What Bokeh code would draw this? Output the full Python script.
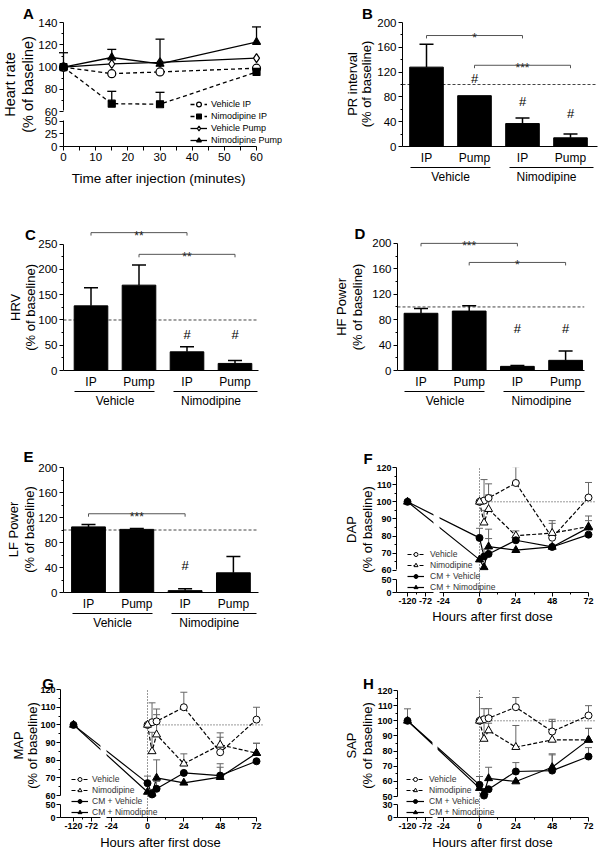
import math
from bokeh.plotting import figure
from bokeh.models import (Range1d, LinearAxis, FixedTicker, CustomJSTickFormatter,
                          Legend, LegendItem, Span)
from bokeh.layouts import column, row
from bokeh.embed import file_html
from bokeh.resources import INLINE
from bokeh.core.properties import value

FONT = "Liberation Sans"

# ------------------------------------------------------------------ data
# A: heart rate (% of baseline) vs minutes after injection
a_minutes = [0, 15, 30, 60]
a_x_ticks = [0, 10, 20, 30, 40, 50, 60]
a_x_minor = [5, 15, 25, 35, 45, 55]
a_y_ticks = [0, 25, 50, 60, 80, 100, 120, 140]
a_y_minor = [70, 90, 110, 130]
a_names = ["Vehicle IP", "Nimodipine IP", "Vehicle Pump", "Nimodipine Pump"]
a_vehicle_ip = [100, 94.2, 95.7, 99.1]
a_vehicle_ip_sem = [13.0, 0, 0, 0]
a_nimodipine_ip = [100, 67.2, 66.7, 95.7]
a_nimodipine_ip_sem = [0, 11.1, 10.7, 0]
a_vehicle_pump = [100, 102.9, 104.3, 108.1]
a_vehicle_pump_sem = [0, 0, 20.9, 0]
a_nimodipine_pump = [100, 108.7, 102.9, 122.6]
a_nimodipine_pump_sem = [0, 7.3, 0, 13.6]

# B-E: bar charts
bar_labels = ["IP", "Pump", "IP", "Pump"]
group_labels = ["Vehicle", "Nimodipine"]

b_mean = [128, 82, 37, 14]
b_sem = [37, 0, 9, 6]
b_y_ticks = [0, 40, 80, 120, 160, 200]
b_y_minor = [20, 60, 100, 140, 180]
b_sig_from = [0, 1]
b_sig_to = [2, 3]
b_sig_y = [179, 131]
b_sig_text = ["*", "***"]
b_hash_x = [1, 2, 3]
b_hash_y = [110, 72, 54]

c_mean = [128, 169, 37, 14]
c_sem = [36, 40, 10, 6]
c_y_ticks = [0, 50, 100, 150, 200, 250]
c_y_minor = [25, 75, 125, 175, 225]
c_sig_from = [0, 1]
c_sig_to = [2, 3]
c_sig_y = [273, 230]
c_sig_text = ["**", "**"]
c_hash_x = [2, 3]
c_hash_y = [72, 72]

d_mean = [90, 93.5, 6.5, 16]
d_sem = [7.5, 8.5, 1.5, 14.5]
d_y_ticks = [0, 40, 80, 120, 160, 200]
d_y_minor = [20, 60, 100, 140, 180]
d_sig_from = [0, 1]
d_sig_to = [2, 3]
d_sig_y = [200, 170]
d_sig_text = ["***", "*"]
d_hash_x = [2, 3]
d_hash_y = [66, 66]

e_mean = [105, 101, 3, 31.5]
e_sem = [4, 1.5, 3, 26]
e_y_ticks = [0, 40, 80, 120, 160, 200]
e_y_minor = [20, 60, 100, 140, 180]
e_sig_from = [0]
e_sig_to = [2]
e_sig_y = [126]
e_sig_text = ["***"]
e_hash_x = [2]
e_hash_y = [43]

# F-H: time courses (% of baseline), value and top of error bar
drug_hours = [0, 3, 6, 24, 48, 72]
cm_hours = [-120, 0, 3, 6, 24, 48, 72]
hour_ticks = [-120, -72, -24, 0, 24, 48, 72]
hour_minor = [-96, 12, 36, 60]
tc_names = ["Vehicle", "Nimodipine", "CM + Vehicle", "CM + Nimodipine"]

f_vehicle = [100, 100.7, 102.2, 111.0, 79.0, 102.5]
f_vehicle_top = [100, 113.0, 110.5, 120.5, 89.0, 111.3]
f_nimodipine = [100, 87.8, 95.7, 80.2, 81.7, 85.5]
f_nimodipine_top = [100, 95.0, 104.0, 83.0, 87.4, 89.0]
f_cm_vehicle = [100, 78.9, 68.0, 69.5, 77.5, 73.6, 80.8]
f_cm_vehicle_top = [100, 84.5, 72.3, 78.5, 80.0, 73.6, 80.8]
f_cm_nimodipine = [100, 66.2, 61.7, 73.8, 71.7, 73.6, 84.9]
f_cm_nimodipine_top = [100, 66.2, 61.7, 84.0, 71.7, 73.6, 91.7]
f_y_ticks = [0, 50, 60, 70, 80, 90, 100, 110, 120]
f_y_minor = [65, 75, 85, 95, 105, 115]

g_vehicle = [100, 101.5, 102, 110, 84.5, 103]
g_vehicle_top = [100, 112.5, 109, 118.5, 95.5, 110]
g_nimodipine = [100, 85, 94.5, 78, 88.7, 84]
g_nimodipine_top = [100, 95.8, 105.8, 83.6, 93, 89.6]
g_cm_vehicle = [100, 67, 60.6, 63.8, 72.8, 71.3, 79.4]
g_cm_vehicle_top = [100, 71, 60.6, 68, 72.8, 78, 79.4]
g_cm_nimodipine = [100, 62, 61, 70, 67.2, 70.4, 84]
g_cm_nimodipine_top = [100, 62, 61, 80.2, 67.2, 76, 89.6]
g_y_ticks = [0, 50, 60, 70, 80, 90, 100, 110, 120]
g_y_minor = [65, 75, 85, 95, 105, 115]

h_vehicle = [100, 101, 101.7, 109, 92.9, 103.5]
h_vehicle_top = [115.4, 108, 108, 115.4, 101, 110]
h_nimodipine = [100, 88, 93.6, 82.6, 87.4, 87.4]
h_nimodipine_top = [100, 100, 98.4, 96.9, 99.5, 95]
h_cm_vehicle = [100, 57.7, 50.6, 54.8, 66.5, 67.1, 76.4]
h_cm_vehicle_top = [107.9, 63.2, 50.6, 54.8, 72.4, 78.2, 82.3]
h_cm_nimodipine = [100, 55.5, 52.6, 62, 59.9, 69.3, 87.4]
h_cm_nimodipine_top = [100, 55.5, 52.6, 69.3, 59.9, 77.5, 95]
h_y_ticks = [0, 30, 50, 60, 70, 80, 90, 100, 110, 120]
h_y_minor = [55, 65, 75, 85, 95, 105, 115]


# ------------------------------------------------------------------ helpers
def brk(v, lo_top, hi_bot, lo_px, gap_px, hi_ppu):
    """broken axis: value -> pixel units above the axis origin"""
    if v <= lo_top:
        return v * lo_px / lo_top
    return lo_px + gap_px + (v - hi_bot) * hi_ppu


def hx(h, left0, left_ppu, zero, right_ppu):
    """broken hour axis: hour -> pixel units right of the y axis"""
    if h <= -72:
        return left0 + (h + 120) * left_ppu
    return zero + h * right_ppu


class Geo:
    def __init__(self, ox, oy, W, H, fl, ft, fr, fb, xs, xe, ys, ye):
        self.ox, self.oy, self.W, self.H = ox, oy, W, H
        self.fl, self.ft, self.fr, self.fb = fl, ft, fr, fb
        self.xs, self.xe, self.ys, self.ye = xs, xe, ys, ye

    def fig(self):
        p = figure(width=self.W, height=self.H, title=None,
                   x_range=Range1d(self.xs, self.xe), y_range=Range1d(self.ys, self.ye),
                   x_axis_type=None, y_axis_type=None,
                   output_backend="svg", toolbar_location=None,
                   min_border_left=self.fl - self.ox, min_border_top=self.ft - self.oy,
                   min_border_right=self.ox + self.W - self.fr,
                   min_border_bottom=self.oy + self.H - self.fb)
        p.outline_line_color = None
        p.background_fill_color = "white"
        p.border_fill_color = "white"
        return p

    def dx(self, px):
        return self.xs + (px - self.fl) * (self.xe - self.xs) / (self.fr - self.fl)

    def dy(self, py):
        return self.ys + (self.fb - py) * (self.ye - self.ys) / (self.fb - self.ft)

    def ppx(self):
        return (self.fr - self.fl) / (self.xe - self.xs)

    def ppy(self):
        return (self.fb - self.ft) / (self.ye - self.ys)


def labels_fmt(pos, labs):
    return CustomJSTickFormatter(args=dict(pos=list(pos), lab=list(labs)), code="""
        let best = ''; let bd = 1e9;
        for (let i = 0; i < pos.length; i++) {
            const d = Math.abs(pos[i] - tick);
            if (d < bd) { bd = d; best = lab[i]; }
        }
        return bd < 1e-6 ? best : '';
    """)


def style_axis(ax, size="11.5px", bold=False):
    ax.major_label_text_font = FONT
    ax.major_label_text_font_size = size
    ax.major_label_text_font_style = "bold" if bold else "normal"
    ax.major_label_text_color = "black"
    ax.axis_line_color = "black"
    ax.axis_line_width = 1
    ax.major_tick_line_color = "black"
    ax.major_tick_line_width = 1
    ax.major_tick_out = 4
    ax.major_tick_in = 0
    ax.minor_tick_line_color = "black"
    ax.minor_tick_out = 2
    ax.minor_tick_in = 0
    ax.major_label_standoff = 2


def put_text(p, g, px, py, txt, size, bold=False, vertical=False, color="black"):
    r = p.text(x=[g.dx(px)], y=[g.dy(py)], text=[txt], text_font=value(FONT),
               text_font_size=value(size), text_font_style=value("bold" if bold else "normal"),
               text_color=color, angle=math.pi / 2 if vertical else 0,
               text_align=value("center"), text_baseline=value("middle"))
    r.level = "overlay"


def style_legend(leg, size, glyph_w, row_h, standoff, color="black", spacing=1):
    leg.label_text_font = FONT
    leg.label_text_font_size = size
    leg.label_text_color = color
    leg.glyph_width = glyph_w
    leg.glyph_height = row_h
    leg.label_height = row_h
    leg.label_standoff = standoff
    leg.spacing = spacing
    leg.padding = 0
    leg.margin = 0
    leg.border_line_color = None
    leg.background_fill_alpha = 0
    leg.label_text_baseline = "middle"


def err_bars(p, xs, means, tops, fy, color, width, cap, level=None):
    sel = [i for i in range(len(xs)) if tops[i] > means[i] + 1e-9]
    if not sel:
        return
    X = [xs[i] for i in sel]
    r1 = p.segment(x0=X, y0=[fy(means[i]) for i in sel], x1=X, y1=[fy(tops[i]) for i in sel],
                   line_color=color, line_width=width)
    r2 = p.scatter(x=X, y=[fy(tops[i]) for i in sel], marker="dash", size=cap,
                   line_color=color, line_width=width)
    if level:
        r1.level = level
        r2.level = level


# ------------------------------------------------------------------ panel A
gA = Geo(0, 0, 300, 205, 63, 22, 292, 150, 0, (292 - 63) / 3.217, 0, 128.2)
pA = gA.fig()


def qa(v):
    return brk(v, 50, 60, 26, 10, 1.15)


a_vals = [a_vehicle_ip, a_nimodipine_ip, a_vehicle_pump, a_nimodipine_pump]
a_sems = [a_vehicle_ip_sem, a_nimodipine_ip_sem, a_vehicle_pump_sem, a_nimodipine_pump_sem]
a_marker = ["circle", "square", "diamond", "triangle"]
a_fill = ["white", "black", "white", "black"]
a_dash = ["4 3", "4 3", "solid", "solid"]
a_size = [8, 7, 9, 8]

a_lines = []
for k in range(4):
    a_lines.append(pA.line(a_minutes, [qa(v) for v in a_vals[k]], line_color="black",
                           line_width=1.3, line_dash=a_dash[k]))
for k in range(4):
    tops = [m + s for m, s in zip(a_vals[k], a_sems[k])]
    err_bars(pA, a_minutes, a_vals[k], tops, qa, "black", 1.3, 9, level="overlay")
a_marks = []
for k in range(4):
    r = pA.scatter(a_minutes, [qa(v) for v in a_vals[k]], marker=a_marker[k], size=a_size[k],
                   fill_color=a_fill[k], line_color="black", line_width=1.2)
    r.level = "overlay"
    a_marks.append(r)

xa = LinearAxis(ticker=FixedTicker(ticks=a_x_ticks, minor_ticks=a_x_minor), bounds=(0, 60))
style_axis(xa)
xa.minor_tick_out = 4
pA.add_layout(xa, "below")
ya = LinearAxis(ticker=FixedTicker(ticks=[qa(v) for v in a_y_ticks],
                                   minor_ticks=[qa(v) for v in a_y_minor]),
                formatter=labels_fmt([qa(v) for v in a_y_ticks], [str(v) for v in a_y_ticks]),
                bounds=(0, qa(140)))
style_axis(ya)
ya.axis_line_dash = f"{round(qa(50))} {round(qa(60) - qa(50))} 600"
pA.add_layout(ya, "left")

legA = Legend(items=[LegendItem(label=a_names[k], renderers=[a_lines[k], a_marks[k]]) for k in range(4)],
              location=(127, 0))
style_legend(legA, "9px", 17, 12, 4, spacing=0)
pA.add_layout(legA)

put_text(pA, gA, 9, 86, "Heart rate", "14.5px", vertical=True)
put_text(pA, gA, 27, 86, "(% of baseline)", "14.5px", vertical=True)
put_text(pA, gA, 160, 183, "Time after injection  (minutes)", "13.5px")
put_text(pA, gA, 28, 12.5, "A", "15px", bold=True)


# ------------------------------------------------------------------ bar panels
group_line_start = [-0.34, 1.72]
group_line_end = [1.32, 3.47]


def bar_panel(g, means, sems, y_ticks, y_minor, y_top, sig_from, sig_to, sig_y, sig_text,
              hash_x, hash_y, ylab1, ylab2, lab_x1, lab_x2, lab_y, letter, letter_xy, title_size):
    p = g.fig()
    ppy = g.ppy()
    p.add_layout(Span(location=100, dimension="width", line_color="#444444", line_dash="3 2",
                      line_width=1, level="underlay"))
    xs = list(range(len(means)))
    p.vbar(x=xs, top=means, width=0.7, fill_color="black", line_color="black")
    tops = [m + s for m, s in zip(means, sems)]
    err_bars(p, xs, means, tops, lambda v: v, "black", 1.5, 14)
    # significance brackets
    drop = 3 / ppy
    p.multi_line(xs=[[a, a, b, b] for a, b in zip(sig_from, sig_to)],
                 ys=[[y - drop, y, y, y - drop] for y in sig_y],
                 line_color="#555555", line_width=1)
    p.text(x=[(a + b) / 2 for a, b in zip(sig_from, sig_to)], y=[y - 3 / ppy for y in sig_y],
           text=sig_text, text_font=value(FONT), text_font_size=value("12px"),
           text_align="center", text_baseline="alphabetic", text_color="#222222")
    p.text(x=hash_x, y=hash_y, text=["#"] * len(hash_x), text_font=value(FONT),
           text_font_size=value("13px"), text_align="center", text_baseline="middle",
           text_color="black")
    # axes
    ya = LinearAxis(ticker=FixedTicker(ticks=y_ticks, minor_ticks=y_minor), bounds=(0, y_top))
    style_axis(ya)
    p.add_layout(ya, "left")
    xa = LinearAxis(ticker=FixedTicker(ticks=xs, minor_ticks=[]), formatter=labels_fmt(xs, bar_labels))
    style_axis(xa, "12px")
    xa.major_tick_out = 0
    xa.major_label_standoff = 4
    p.add_layout(xa, "below")
    ppx = g.ppx()
    seg1 = round((group_line_end[0] - group_line_start[0]) * ppx)
    gap = round((group_line_start[1] - group_line_end[0]) * ppx)
    seg2 = round((group_line_end[1] - group_line_start[1]) * ppx)
    ga = LinearAxis(ticker=FixedTicker(ticks=[0.5, 2.5], minor_ticks=[]),
                    formatter=labels_fmt([0.5, 2.5], group_labels),
                    bounds=(group_line_start[0], min(group_line_end[1], g.xe)))
    style_axis(ga, "12px")
    ga.major_tick_out = 0
    ga.major_label_standoff = 2
    ga.axis_line_dash = f"{seg1} {gap} {seg2} 600"
    p.add_layout(ga, "below")
    put_text(p, g, lab_x1, lab_y, ylab1, title_size, vertical=True)
    put_text(p, g, lab_x2, lab_y, ylab2, title_size, vertical=True)
    put_text(p, g, letter_xy[0], letter_xy[1], letter, "15px", bold=True)
    return p


def bar_geo(ox, oy, W, H, fl, ft, fr, fb, x0, sp, ye):
    return Geo(ox, oy, W, H, fl, ft, fr, fb, (fl - x0) / sp, (fr - x0) / sp, 0, ye)


gB = bar_geo(300, 0, 300, 205, 402, 19, 597, 146, 426, 48, 200)
pB = bar_panel(gB, b_mean, b_sem, b_y_ticks, b_y_minor, 200, b_sig_from, b_sig_to, b_sig_y,
               b_sig_text, b_hash_x, b_hash_y, "PR interval", "(% of baseline)", 352, 366, 82,
               "B", (367, 10), "13px")

gC = bar_geo(0, 205, 300, 205, 63, 225, 258, 372, 90.5, 48, (372 - 225) / 0.512)
pC = bar_panel(gC, c_mean, c_sem, c_y_ticks, c_y_minor, 250, c_sig_from, c_sig_to, c_sig_y,
               c_sig_text, c_hash_x, c_hash_y, "HRV", "(% of baseline)", 15, 30, 308,
               "C", (30, 234.5), "13px")

gD = bar_geo(300, 205, 300, 205, 397, 225, 584, 371, 420.5, 48.2, (371 - 225) / 0.64)
pD = bar_panel(gD, d_mean, d_sem, d_y_ticks, d_y_minor, 200, d_sig_from, d_sig_to, d_sig_y,
               d_sig_text, d_hash_x, d_hash_y, "HF Power", "(% of baseline)", 341, 357, 307,
               "D", (359.5, 233), "13px")

gE = bar_geo(0, 410, 300, 222, 63, 467, 258, 594, 88, 48.3, 200)
pE = bar_panel(gE, e_mean, e_sem, e_y_ticks, e_y_minor, 200, e_sig_from, e_sig_to, e_sig_y,
               e_sig_text, e_hash_x, e_hash_y, "LF Power", "(% of baseline)", 12.5, 28.5, 530,
               "E", (28, 456), "13px")


# ------------------------------------------------------------------ time-course panels
tc_marker = ["circle", "triangle", "circle", "triangle"]
tc_fill = ["white", "white", "black", "black"]
tc_dash = ["4 2", "4 2", "solid", "solid"]
tc_size = [7, 8, 7, 8]


def time_panel(g, fx, fy, vals, tops, y_ticks, y_minor, lo_top, hi_bot, brk0, brk1,
               leg_loc, leg_row, leg_glyph, leg_standoff, ylab, lab_x1, lab_x2, lab_y,
               xtitle_xy, letter, letter_xy):
    p = g.fig()
    x0 = fx(0)
    p.segment(x0=[x0], y0=[fy(100)], x1=[g.xe], y1=[fy(100)], line_color="black",
              line_width=0.8, line_dash="1 2")
    p.segment(x0=[x0], y0=[g.ys], x1=[x0], y1=[fy(120)], line_color="black",
              line_width=0.8, line_dash="1 2")
    hours = [drug_hours, drug_hours, cm_hours, cm_hours]
    lines = []
    for k in range(4):
        lines.append(p.line([fx(h) for h in hours[k]], [fy(v) for v in vals[k]],
                            line_color="black", line_width=1.2, line_dash=tc_dash[k]))
    # gap in the lines where the hour axis is broken
    p.quad(left=[brk0], right=[brk1], bottom=[g.ys], top=[g.ye], fill_color="white",
           line_color=None)
    for k in range(4):
        err_bars(p, [fx(h) for h in hours[k]], vals[k], tops[k], fy, "#666666", 1, 7)
    marks = []
    for k in range(4):
        marks.append(p.scatter([fx(h) for h in hours[k]], [fy(v) for v in vals[k]],
                               marker=tc_marker[k], size=tc_size[k], fill_color=tc_fill[k],
                               line_color="black", line_width=1))
    xt = [fx(h) for h in hour_ticks]
    xa = LinearAxis(ticker=FixedTicker(ticks=xt, minor_ticks=[fx(h) for h in hour_minor]),
                    formatter=labels_fmt(xt, [str(h) for h in hour_ticks]),
                    bounds=(g.xs, fx(72)))
    style_axis(xa, "9px", bold=True)
    xa.major_label_standoff = 1
    xa.axis_line_dash = f"{round(brk0)} {round(brk1 - brk0)} 600"
    p.add_layout(xa, "below")
    yt = [fy(v) for v in y_ticks]
    ya = LinearAxis(ticker=FixedTicker(ticks=yt, minor_ticks=[fy(v) for v in y_minor]),
                    formatter=labels_fmt(yt, [str(v) for v in y_ticks]),
                    bounds=(g.ys, fy(120)))
    style_axis(ya, "9px", bold=True)
    ya.major_label_standoff = 1
    ya.axis_line_dash = f"{round(fy(lo_top))} {round(fy(hi_bot) - fy(lo_top))} 600"
    p.add_layout(ya, "left")
    leg = Legend(items=[LegendItem(label=tc_names[k], renderers=[lines[k], marks[k]])
                        for k in range(4)], location=leg_loc)
    style_legend(leg, "8.5px", leg_glyph, leg_row, leg_standoff, color="#333333")
    p.add_layout(leg)
    put_text(p, g, lab_x1, lab_y, ylab, "13px", vertical=True)
    put_text(p, g, lab_x2, lab_y, "(% of baseline)", "13px", vertical=True)
    put_text(p, g, xtitle_xy[0], xtitle_xy[1], "Hours after first dose", "13px")
    put_text(p, g, letter_xy[0], letter_xy[1], letter, "15px", bold=True)
    return p


gF = Geo(300, 410, 300, 222, 396, 467, 596, 596, 0, 200, 0, 129)
pF = time_panel(gF, lambda h: hx(h, 11, 0.375, 83, 1.514),
                lambda v: brk(v, 50, 60, 13, 10, 1.765),
                [f_vehicle, f_nimodipine, f_cm_vehicle, f_cm_nimodipine],
                [f_vehicle_top, f_nimodipine_top, f_cm_vehicle_top, f_cm_nimodipine_top],
                f_y_ticks, f_y_minor, 50, 60, 37, 43, (11, 0), 10, 17, 6,
                "DAP", 351, 367, 531, (492, 621), "F", (367.5, 458))

gG = Geo(0, 632, 300, 222, 60, 689, 264, 817, 0, 204, 0, 128)
pG = time_panel(gG, lambda h: hx(h, 13, 0.375, 87, 1.514),
                lambda v: brk(v, 50, 60, 12.7, 9.3, 1.765),
                [g_vehicle, g_nimodipine, g_cm_vehicle, g_cm_nimodipine],
                [g_vehicle_top, g_nimodipine_top, g_cm_vehicle_top, g_cm_nimodipine_top],
                g_y_ticks, g_y_minor, 50, 60, 40, 46, (11, 0), 10, 17, 4,
                "MAP", 17.5, 31.5, 745, (160, 842), "G", (47.5, 682.5))

gH = Geo(300, 632, 300, 222, 397, 689, 596, 817, 0, 199, 0, 128)
pH = time_panel(gH, lambda h: hx(h, 10, 0.375, 82, 1.514),
                lambda v: brk(v, 30, 50, 12.7, 8.3, 1.514),
                [h_vehicle, h_nimodipine, h_cm_vehicle, h_cm_nimodipine],
                [h_vehicle_top, h_nimodipine_top, h_cm_vehicle_top, h_cm_nimodipine_top],
                h_y_ticks, h_y_minor, 30, 50, 35, 40, (9, 0), 10, 18, 5,
                "SAP", 351, 367, 745, (492, 842), "H", (368, 683))

layout = column(row(pA, pB), row(pC, pD), row(pE, pF), row(pG, pH))
open("out.html", "w").write(file_html(layout, INLINE))
